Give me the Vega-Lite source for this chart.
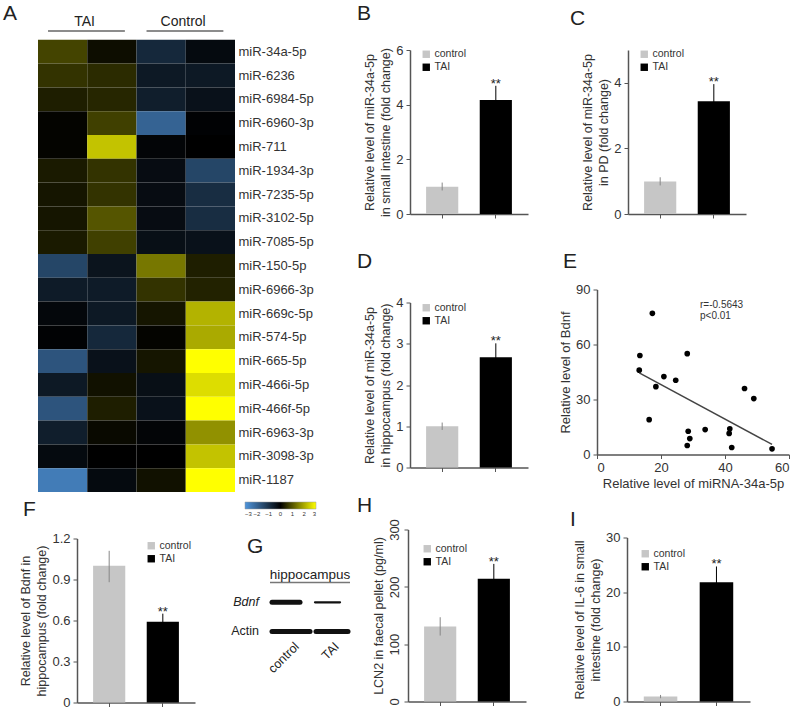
{
  "$schema": "https://vega.github.io/schema/vega-lite/v6.json",
  "padding": {"left": 3, "top": 3, "right": 0, "bottom": 0},
  "config": {
    "font": "Liberation Sans",
    "view": {"stroke": null},
    "axis": {"grid": false, "domainColor": "#555", "domainWidth": 1.5, "tickColor": "#555", "tickSize": 4, "tickWidth": 1, "labelColor": "#333", "titleColor": "#333", "labelFontSize": 13, "titleFontSize": 12.5, "titleFontWeight": "normal", "labelPadding": 3, "titlePadding": 3, "titleLineHeight": 16},
    "legend": {"symbolType": "square", "symbolSize": 55, "labelFontSize": 10.5, "labelColor": "#333", "rowPadding": 2, "padding": 0, "symbolStrokeWidth": 0, "labelOffset": 3, "gradientHorizontalMinLength": 40},
    "title": {"fontSize": 21, "fontWeight": "normal", "anchor": "start", "frame": "group", "color": "#222", "baseline": "bottom"}
  },
  "bounds": "flush",
  "spacing": 513.5,
  "resolve": {"scale": {"color": "independent"}, "legend": {"color": "independent"}},
  "vconcat": [
    {
      "bounds": "flush",
      "spacing": 175,
      "resolve": {"scale": {"color": "independent"}, "legend": {"color": "independent"}},
      "hconcat": [
        {
          "width": 197,
          "height": 476,
          "title": {"text": "A", "dx": -35, "dy": 9, "offset": 0},
          "layer": [
            {
              "data": {"values": [
                {"mir": "miR-34a-5p", "col": "T1", "z": 0.8}, {"mir": "miR-34a-5p", "col": "T2", "z": 0.15}, {"mir": "miR-34a-5p", "col": "C1", "z": -0.8}, {"mir": "miR-34a-5p", "col": "C2", "z": -0.2},
                {"mir": "miR-6236", "col": "T1", "z": 0.6}, {"mir": "miR-6236", "col": "T2", "z": 0.5}, {"mir": "miR-6236", "col": "C1", "z": -0.5}, {"mir": "miR-6236", "col": "C2", "z": -0.5},
                {"mir": "miR-6984-5p", "col": "T1", "z": 0.35}, {"mir": "miR-6984-5p", "col": "T2", "z": 0.45}, {"mir": "miR-6984-5p", "col": "C1", "z": -0.6}, {"mir": "miR-6984-5p", "col": "C2", "z": -0.35},
                {"mir": "miR-6960-3p", "col": "T1", "z": 0.05}, {"mir": "miR-6960-3p", "col": "T2", "z": 0.75}, {"mir": "miR-6960-3p", "col": "C1", "z": -2.0}, {"mir": "miR-6960-3p", "col": "C2", "z": -0.05},
                {"mir": "miR-711", "col": "T1", "z": 0.05}, {"mir": "miR-711", "col": "T2", "z": 2.3}, {"mir": "miR-711", "col": "C1", "z": -0.1}, {"mir": "miR-711", "col": "C2", "z": 0.0},
                {"mir": "miR-1934-3p", "col": "T1", "z": 0.3}, {"mir": "miR-1934-3p", "col": "T2", "z": 0.6}, {"mir": "miR-1934-3p", "col": "C1", "z": -0.25}, {"mir": "miR-1934-3p", "col": "C2", "z": -1.4},
                {"mir": "miR-7235-5p", "col": "T1", "z": 0.25}, {"mir": "miR-7235-5p", "col": "T2", "z": 0.6}, {"mir": "miR-7235-5p", "col": "C1", "z": -0.25}, {"mir": "miR-7235-5p", "col": "C2", "z": -0.9},
                {"mir": "miR-3102-5p", "col": "T1", "z": 0.25}, {"mir": "miR-3102-5p", "col": "T2", "z": 1.0}, {"mir": "miR-3102-5p", "col": "C1", "z": -0.25}, {"mir": "miR-3102-5p", "col": "C2", "z": -0.9},
                {"mir": "miR-7085-5p", "col": "T1", "z": 0.3}, {"mir": "miR-7085-5p", "col": "T2", "z": 0.75}, {"mir": "miR-7085-5p", "col": "C1", "z": -0.3}, {"mir": "miR-7085-5p", "col": "C2", "z": -0.35},
                {"mir": "miR-150-5p", "col": "T1", "z": -1.4}, {"mir": "miR-150-5p", "col": "T2", "z": -0.4}, {"mir": "miR-150-5p", "col": "C1", "z": 1.4}, {"mir": "miR-150-5p", "col": "C2", "z": 0.35},
                {"mir": "miR-6966-3p", "col": "T1", "z": -0.55}, {"mir": "miR-6966-3p", "col": "T2", "z": -0.55}, {"mir": "miR-6966-3p", "col": "C1", "z": 0.6}, {"mir": "miR-6966-3p", "col": "C2", "z": 0.4},
                {"mir": "miR-669c-5p", "col": "T1", "z": -0.15}, {"mir": "miR-669c-5p", "col": "T2", "z": -0.5}, {"mir": "miR-669c-5p", "col": "C1", "z": 0.25}, {"mir": "miR-669c-5p", "col": "C2", "z": 2.1},
                {"mir": "miR-574-5p", "col": "T1", "z": -0.05}, {"mir": "miR-574-5p", "col": "T2", "z": -0.8}, {"mir": "miR-574-5p", "col": "C1", "z": 0.05}, {"mir": "miR-574-5p", "col": "C2", "z": 2.0},
                {"mir": "miR-665-5p", "col": "T1", "z": -1.7}, {"mir": "miR-665-5p", "col": "T2", "z": -0.35}, {"mir": "miR-665-5p", "col": "C1", "z": 0.25}, {"mir": "miR-665-5p", "col": "C2", "z": 3.0},
                {"mir": "miR-466i-5p", "col": "T1", "z": -0.5}, {"mir": "miR-466i-5p", "col": "T2", "z": 0.2}, {"mir": "miR-466i-5p", "col": "C1", "z": -0.3}, {"mir": "miR-466i-5p", "col": "C2", "z": 2.6},
                {"mir": "miR-466f-5p", "col": "T1", "z": -1.7}, {"mir": "miR-466f-5p", "col": "T2", "z": 0.35}, {"mir": "miR-466f-5p", "col": "C1", "z": -0.35}, {"mir": "miR-466f-5p", "col": "C2", "z": 3.0},
                {"mir": "miR-6963-3p", "col": "T1", "z": -0.6}, {"mir": "miR-6963-3p", "col": "T2", "z": 0.1}, {"mir": "miR-6963-3p", "col": "C1", "z": -0.1}, {"mir": "miR-6963-3p", "col": "C2", "z": 1.7},
                {"mir": "miR-3098-3p", "col": "T1", "z": -0.2}, {"mir": "miR-3098-3p", "col": "T2", "z": 0.0}, {"mir": "miR-3098-3p", "col": "C1", "z": 0.0}, {"mir": "miR-3098-3p", "col": "C2", "z": 2.3},
                {"mir": "miR-1187", "col": "T1", "z": -2.5}, {"mir": "miR-1187", "col": "T2", "z": -0.2}, {"mir": "miR-1187", "col": "C1", "z": 0.2}, {"mir": "miR-1187", "col": "C2", "z": 3.0}
              ]},
              "mark": {"type": "rect"},
              "encoding": {
                "x": {"field": "col", "type": "nominal", "scale": {"domain": ["T1", "T2", "C1", "C2"], "paddingInner": 0, "paddingOuter": 0}, "axis": null},
                "y": {"field": "mir", "type": "nominal", "scale": {"domain": ["hdr", "miR-34a-5p", "miR-6236", "miR-6984-5p", "miR-6960-3p", "miR-711", "miR-1934-3p", "miR-7235-5p", "miR-3102-5p", "miR-7085-5p", "miR-150-5p", "miR-6966-3p", "miR-669c-5p", "miR-574-5p", "miR-665-5p", "miR-466i-5p", "miR-466f-5p", "miR-6963-3p", "miR-3098-3p", "miR-1187"], "paddingInner": 0, "paddingOuter": 0}, "axis": {"orient": "right", "title": null, "ticks": false, "domain": false, "labelExpr": "datum.value == 'hdr' ? '' : datum.value", "labelFontSize": 13, "labelPadding": 3}},
                "color": {"field": "z", "type": "quantitative", "scale": {"domain": [-3, 0, 3], "range": ["#4f95dc", "#000000", "#ffff00"], "interpolate": "rgb"}, "legend": {"orient": "none", "legendX": 207, "legendY": 486, "direction": "horizontal", "gradientLength": 71, "gradientThickness": 7, "title": null, "values": [-3, -2, -1, 0, 1, 2, 3], "labelFontSize": 6, "labelOffset": 2, "gradientStrokeColor": "#999", "gradientStrokeWidth": 0.5}}
              }
            },
            {
              "data": {"values": [{"col": "T1", "col2": "T2", "label": "TAI"}, {"col": "C1", "col2": "C2", "label": "Control"}]},
              "mark": {"type": "rule", "color": "#666", "strokeWidth": 1.5, "xOffset": -14.6, "x2Offset": 13, "yOffset": 3},
              "encoding": {
                "x": {"field": "col", "type": "nominal"},
                "x2": {"field": "col2"},
                "y": {"datum": "hdr", "type": "nominal"}
              }
            },
            {
              "data": {"values": [{"col": "T1", "label": "TAI"}, {"col": "C1", "label": "Control"}]},
              "mark": {"type": "text", "fontSize": 14, "baseline": "bottom", "dy": 1.5, "xOffset": 22, "color": "#222"},
              "encoding": {
                "x": {"field": "col", "type": "nominal"},
                "y": {"datum": "hdr", "type": "nominal"},
                "text": {"field": "label"}
              }
            }
          ]
        },
        {
          "bounds": "flush",
          "spacing": 33,
          "resolve": {"scale": {"color": "independent"}, "legend": {"color": "independent"}},
          "vconcat": [
            {"width": 1, "height": 1, "data": {"values": []}, "mark": "point"},
            {
              "bounds": "flush",
              "spacing": 239.5,
              "resolve": {"scale": {"color": "independent"}, "legend": {"color": "independent"}},
              "vconcat": [
                {
                  "bounds": "flush",
                  "spacing": 100,
                  "resolve": {"scale": {"color": "independent"}, "legend": {"color": "independent"}},
                  "hconcat": [
                    {
                      "width": 118, "height": 164,
                      "title": {"text": "B", "dx": -53, "offset": 20},
                      "data": {"values": [{"group": "control", "value": 1.0, "lo": 0.86, "hi": 1.15}, {"group": "TAI", "value": 4.17, "lo": 3.65, "hi": 4.69}]},
                      "encoding": {"x": {"field": "group", "type": "nominal", "sort": ["control", "TAI"], "scale": {"paddingInner": 0.4, "paddingOuter": 0.3}, "axis": {"labels": false, "title": null}}},
                      "layer": [
                        {"mark": {"type": "bar"}, "encoding": {
                          "y": {"field": "value", "type": "quantitative", "scale": {"domain": [0, 6], "nice": false}, "axis": {"values": [0, 2, 4, 6], "title": ["Relative level of miR-34a-5p", "in small intestine (fold change)"]}},
                          "color": {"field": "group", "type": "nominal", "scale": {"domain": ["control", "TAI"], "range": ["#c6c6c6", "#000000"]}, "legend": {"orient": "none", "legendX": 11, "legendY": -1, "title": null}}}},
                        {"mark": {"type": "rule", "strokeWidth": 1}, "encoding": {"y": {"field": "lo", "type": "quantitative"}, "y2": {"field": "hi"}, "stroke": {"condition": {"test": "datum.group === 'control'", "value": "#888"}, "value": "#000"}}},
                        {"transform": [{"filter": "datum.group === 'TAI'"}], "mark": {"type": "text", "text": "**", "baseline": "alphabetic", "dy": 2, "fontSize": 13, "color": "#222"}, "encoding": {"y": {"field": "hi", "type": "quantitative"}}}
                      ]
                    },
                    {
                      "width": 118, "height": 164,
                      "title": {"text": "C", "dx": -58, "offset": 20},
                      "data": {"values": [{"group": "control", "value": 0.99, "lo": 0.87, "hi": 1.12}, {"group": "TAI", "value": 3.44, "lo": 2.92, "hi": 3.96}]},
                      "encoding": {"x": {"field": "group", "type": "nominal", "sort": ["control", "TAI"], "scale": {"paddingInner": 0.4, "paddingOuter": 0.3}, "axis": {"labels": false, "title": null}}},
                      "layer": [
                        {"mark": {"type": "bar"}, "encoding": {
                          "y": {"field": "value", "type": "quantitative", "scale": {"domain": [0, 5], "nice": false}, "axis": {"values": [0, 1, 2, 3, 4, 5], "title": ["Relative level of miR-34a-5p", "in PD (fold change)"]}},
                          "color": {"field": "group", "type": "nominal", "scale": {"domain": ["control", "TAI"], "range": ["#c6c6c6", "#000000"]}, "legend": {"orient": "none", "legendX": 11, "legendY": -1, "title": null}}}},
                        {"mark": {"type": "rule", "strokeWidth": 1}, "encoding": {"y": {"field": "lo", "type": "quantitative"}, "y2": {"field": "hi"}, "stroke": {"condition": {"test": "datum.group === 'control'", "value": "#888"}, "value": "#000"}}},
                        {"transform": [{"filter": "datum.group === 'TAI'"}], "mark": {"type": "text", "text": "**", "baseline": "alphabetic", "dy": 2, "fontSize": 13, "color": "#222"}, "encoding": {"y": {"field": "hi", "type": "quantitative"}}}
                      ]
                    }
                  ]
                },
                {
                  "bounds": "flush",
                  "spacing": 187,
                  "resolve": {"scale": {"color": "independent"}, "legend": {"color": "independent"}},
                  "hconcat": [
                    {
                      "bounds": "flush",
                      "spacing": 12,
                      "resolve": {"scale": {"color": "independent"}, "legend": {"color": "independent"}},
                      "vconcat": [
                        {"width": 1, "height": 1, "data": {"values": []}, "mark": "point"},
                        {
                          "width": 118, "height": 165,
                          "title": {"text": "D", "dx": -53, "offset": 25},
                          "data": {"values": [{"group": "control", "value": 1.0, "lo": 0.91, "hi": 1.09}, {"group": "TAI", "value": 2.67, "lo": 2.33, "hi": 3.01}]},
                          "encoding": {"x": {"field": "group", "type": "nominal", "sort": ["control", "TAI"], "scale": {"paddingInner": 0.4, "paddingOuter": 0.3}, "axis": {"labels": false, "title": null}}},
                          "layer": [
                            {"mark": {"type": "bar"}, "encoding": {
                              "y": {"field": "value", "type": "quantitative", "scale": {"domain": [0, 4], "nice": false}, "axis": {"values": [0, 1, 2, 3, 4], "title": ["Relative level of miR-34a-5p", "in hippocampus (fold change)"]}},
                              "color": {"field": "group", "type": "nominal", "scale": {"domain": ["control", "TAI"], "range": ["#c6c6c6", "#000000"]}, "legend": {"orient": "none", "legendX": 11, "legendY": 0, "title": null}}}},
                            {"mark": {"type": "rule", "strokeWidth": 1}, "encoding": {"y": {"field": "lo", "type": "quantitative"}, "y2": {"field": "hi"}, "stroke": {"condition": {"test": "datum.group === 'control'", "value": "#888"}, "value": "#000"}}},
                            {"transform": [{"filter": "datum.group === 'TAI'"}], "mark": {"type": "text", "text": "**", "baseline": "alphabetic", "dy": 2, "fontSize": 13, "color": "#222"}, "encoding": {"y": {"field": "hi", "type": "quantitative"}}}
                          ]
                        }
                      ]
                    },
                    {
                      "width": 192, "height": 165,
                      "title": {"text": "E", "dx": -34, "offset": 12},
                      "layer": [
                        {
                          "data": {"values": [
                            {"mir34a": 17.3, "bdnf": 77}, {"mir34a": 13.4, "bdnf": 54}, {"mir34a": 13.2, "bdnf": 46}, {"mir34a": 18.4, "bdnf": 37},
                            {"mir34a": 20.9, "bdnf": 42.5}, {"mir34a": 24.6, "bdnf": 40.5}, {"mir34a": 28.2, "bdnf": 55}, {"mir34a": 46.1, "bdnf": 36},
                            {"mir34a": 49.0, "bdnf": 30.5}, {"mir34a": 16.3, "bdnf": 19}, {"mir34a": 28.5, "bdnf": 12.7}, {"mir34a": 29.0, "bdnf": 8.7},
                            {"mir34a": 28.2, "bdnf": 4.9}, {"mir34a": 33.8, "bdnf": 13.6}, {"mir34a": 41.5, "bdnf": 14.0}, {"mir34a": 41.3, "bdnf": 11.5},
                            {"mir34a": 42.1, "bdnf": 3.8}, {"mir34a": 54.7, "bdnf": 3.1}
                          ]},
                          "mark": {"type": "circle", "size": 32, "color": "#000", "opacity": 1},
                          "encoding": {
                            "x": {"field": "mir34a", "type": "quantitative", "scale": {"domain": [0, 60], "nice": false}, "axis": {"values": [0, 20, 40, 60], "title": "Relative level of miRNA-34a-5p", "titleFontSize": 13}},
                            "y": {"field": "bdnf", "type": "quantitative", "scale": {"domain": [0, 90], "nice": false}, "axis": {"values": [0, 30, 60, 90], "title": "Relative level of Bdnf", "titleFontSize": 13}}
                          }
                        },
                        {
                          "data": {"values": [{"mir34a": 13.2, "bdnf": 44.5}, {"mir34a": 54.7, "bdnf": 5.5}]},
                          "mark": {"type": "line", "color": "#444", "strokeWidth": 1.5},
                          "encoding": {"x": {"field": "mir34a", "type": "quantitative"}, "y": {"field": "bdnf", "type": "quantitative"}}
                        },
                        {
                          "data": {"values": [{"mir34a": 32.2, "bdnf": 81.7, "label": "r=-0.5643"}, {"mir34a": 32.2, "bdnf": 75.7, "label": "p<0.01"}]},
                          "mark": {"type": "text", "align": "left", "baseline": "middle", "fontSize": 10, "color": "#333"},
                          "encoding": {"x": {"field": "mir34a", "type": "quantitative"}, "y": {"field": "bdnf", "type": "quantitative"}, "text": {"field": "label"}}
                        }
                      ]
                    }
                  ]
                }
              ]
            }
          ]
        }
      ]
    },
    {
      "bounds": "flush",
      "spacing": 370,
      "resolve": {"scale": {"color": "independent"}, "legend": {"color": "independent"}},
      "hconcat": [
        {
          "bounds": "flush",
          "spacing": 8,
          "resolve": {"scale": {"color": "independent"}, "legend": {"color": "independent"}},
          "vconcat": [
            {"width": 1, "height": 1, "data": {"values": []}, "mark": "point"},
            {
              "bounds": "flush",
              "spacing": 38,
              "resolve": {"scale": {"color": "independent"}, "legend": {"color": "independent"}},
              "hconcat": [
                {"width": 1, "height": 1, "data": {"values": []}, "mark": "point"},
                {
                  "width": 118, "height": 164,
                  "title": {"text": "F", "dx": -54, "offset": 13},
                  "data": {"values": [{"group": "control", "value": 1.0, "lo": 0.88, "hi": 1.11}, {"group": "TAI", "value": 0.59, "lo": 0.53, "hi": 0.65}]},
                  "encoding": {"x": {"field": "group", "type": "nominal", "sort": ["control", "TAI"], "scale": {"paddingInner": 0.4, "paddingOuter": 0.3}, "axis": {"labels": false, "title": null}}},
                  "layer": [
                    {"mark": {"type": "bar"}, "encoding": {
                      "y": {"field": "value", "type": "quantitative", "scale": {"domain": [0, 1.2], "nice": false}, "axis": {"values": [0, 0.3, 0.6, 0.9, 1.2], "format": "~g", "title": ["Relative level of Bdnf in", "hippocampus (fold change)"]}},
                      "color": {"field": "group", "type": "nominal", "scale": {"domain": ["control", "TAI"], "range": ["#c6c6c6", "#000000"]}, "legend": {"orient": "none", "legendX": 69, "legendY": 2, "title": null}}}},
                    {"mark": {"type": "rule", "strokeWidth": 1}, "encoding": {"y": {"field": "lo", "type": "quantitative"}, "y2": {"field": "hi"}, "stroke": {"condition": {"test": "datum.group === 'control'", "value": "#888"}, "value": "#000"}}},
                    {"transform": [{"filter": "datum.group === 'TAI'"}], "mark": {"type": "text", "text": "**", "baseline": "alphabetic", "dy": 2, "fontSize": 13, "color": "#222"}, "encoding": {"y": {"field": "hi", "type": "quantitative"}}}
                  ]
                },
                {
                  "width": 130, "height": 164,
                  "title": {"text": "G", "dx": 14, "dy": 18, "offset": 0},
                  "encoding": {
                    "x": {"field": "lane", "type": "quantitative", "scale": {"domain": [-0.45, 2.8], "nice": false, "zero": false}, "axis": null},
                    "y": {"field": "row", "type": "quantitative", "scale": {"domain": [-1.2, 4.45], "reverse": true, "nice": false, "zero": false}, "axis": null}
                  },
                  "layer": [
                    {
                      "data": {"values": [{"lane": 0.525, "lane2": 1.225, "row": 1, "intensity": 1.0}, {"lane": 1.6, "lane2": 2.225, "row": 1, "intensity": 0.45}, {"lane": 0.525, "lane2": 1.475, "row": 2, "intensity": 1.0}, {"lane": 1.625, "lane2": 2.425, "row": 2, "intensity": 1.0}]},
                      "mark": {"type": "rule", "color": "#111", "strokeCap": "round"},
                      "encoding": {"x2": {"field": "lane2"}, "strokeWidth": {"field": "intensity", "type": "quantitative", "scale": {"domain": [0, 1], "range": [0, 5]}, "legend": null}}
                    },
                    {
                      "data": {"values": [{"lane": 0.475, "lane2": 2.475, "row": 0.32}]},
                      "mark": {"type": "rule", "color": "#777", "strokeWidth": 1.5},
                      "encoding": {"x2": {"field": "lane2"}}
                    },
                    {
                      "data": {"values": [{"lane": 1.475, "row": 0.05, "label": "hippocampus"}]},
                      "mark": {"type": "text", "fontSize": 13.5, "baseline": "middle", "color": "#222"},
                      "encoding": {"text": {"field": "label"}}
                    },
                    {
                      "data": {"values": [{"lane": 0.2, "row": 1, "label": "Bdnf"}]},
                      "mark": {"type": "text", "fontSize": 12.5, "align": "right", "baseline": "middle", "fontStyle": "italic", "color": "#222"},
                      "encoding": {"text": {"field": "label"}}
                    },
                    {
                      "data": {"values": [{"lane": 0.2, "row": 2, "label": "Actin"}]},
                      "mark": {"type": "text", "fontSize": 12.5, "align": "right", "baseline": "middle", "color": "#222"},
                      "encoding": {"text": {"field": "label"}}
                    },
                    {
                      "data": {"values": [{"lane": 1.15, "row": 2.45, "label": "control"}, {"lane": 2.15, "row": 2.45, "label": "TAI"}]},
                      "mark": {"type": "text", "fontSize": 12.5, "align": "right", "baseline": "middle", "angle": -45, "color": "#222"},
                      "encoding": {"text": {"field": "label"}}
                    }
                  ]
                }
              ]
            }
          ]
        },
        {
          "bounds": "flush",
          "spacing": 101,
          "resolve": {"scale": {"color": "independent"}, "legend": {"color": "independent"}},
          "hconcat": [
            {
              "width": 118, "height": 172,
              "title": {"text": "H", "dx": -51, "offset": 3},
              "data": {"values": [{"group": "control", "value": 131, "lo": 115, "hi": 147}, {"group": "TAI", "value": 214, "lo": 188, "hi": 240}]},
              "encoding": {"x": {"field": "group", "type": "nominal", "sort": ["control", "TAI"], "scale": {"paddingInner": 0.4, "paddingOuter": 0.3}, "axis": {"labels": false, "title": null}}},
              "layer": [
                {"mark": {"type": "bar"}, "encoding": {
                  "y": {"field": "value", "type": "quantitative", "scale": {"domain": [0, 300], "nice": false}, "axis": {"values": [0, 100, 200, 300], "labelAngle": -90, "labelAlign": "center", "labelBaseline": "bottom", "title": "LCN2 in faecal pellet (pg/ml)"}},
                  "color": {"field": "group", "type": "nominal", "scale": {"domain": ["control", "TAI"], "range": ["#c6c6c6", "#000000"]}, "legend": {"orient": "none", "legendX": 14, "legendY": 14, "title": null}}}},
                {"mark": {"type": "rule", "strokeWidth": 1}, "encoding": {"y": {"field": "lo", "type": "quantitative"}, "y2": {"field": "hi"}, "stroke": {"condition": {"test": "datum.group === 'control'", "value": "#888"}, "value": "#000"}}},
                {"transform": [{"filter": "datum.group === 'TAI'"}], "mark": {"type": "text", "text": "**", "baseline": "alphabetic", "dy": 2, "fontSize": 13, "color": "#222"}, "encoding": {"y": {"field": "hi", "type": "quantitative"}}}
              ]
            },
            {
              "bounds": "flush",
              "spacing": 7,
              "resolve": {"scale": {"color": "independent"}, "legend": {"color": "independent"}},
              "vconcat": [
                {"width": 1, "height": 1, "data": {"values": []}, "mark": "point"},
                {
                  "width": 123, "height": 164,
                  "title": {"text": "I", "dx": -57, "offset": 2},
                  "data": {"values": [{"group": "control", "value": 0.9, "lo": 0.6, "hi": 1.2}, {"group": "TAI", "value": 21.8, "lo": 18.9, "hi": 24.7}]},
                  "encoding": {"x": {"field": "group", "type": "nominal", "sort": ["control", "TAI"], "scale": {"paddingInner": 0.4, "paddingOuter": 0.3}, "axis": {"labels": false, "title": null}}},
                  "layer": [
                    {"mark": {"type": "bar"}, "encoding": {
                      "y": {"field": "value", "type": "quantitative", "scale": {"domain": [0, 30], "nice": false}, "axis": {"values": [0, 10, 20, 30], "title": ["Relative level of IL-6 in small", "intestine (fold change)"]}},
                      "color": {"field": "group", "type": "nominal", "scale": {"domain": ["control", "TAI"], "range": ["#c6c6c6", "#000000"]}, "legend": {"orient": "none", "legendX": 13, "legendY": 11, "title": null}}}},
                    {"mark": {"type": "rule", "strokeWidth": 1}, "encoding": {"y": {"field": "lo", "type": "quantitative"}, "y2": {"field": "hi"}, "stroke": {"condition": {"test": "datum.group === 'control'", "value": "#888"}, "value": "#000"}}},
                    {"transform": [{"filter": "datum.group === 'TAI'"}], "mark": {"type": "text", "text": "**", "baseline": "alphabetic", "dy": 2, "fontSize": 13, "color": "#222"}, "encoding": {"y": {"field": "hi", "type": "quantitative"}}}
                  ]
                }
              ]
            }
          ]
        }
      ]
    }
  ]
}
